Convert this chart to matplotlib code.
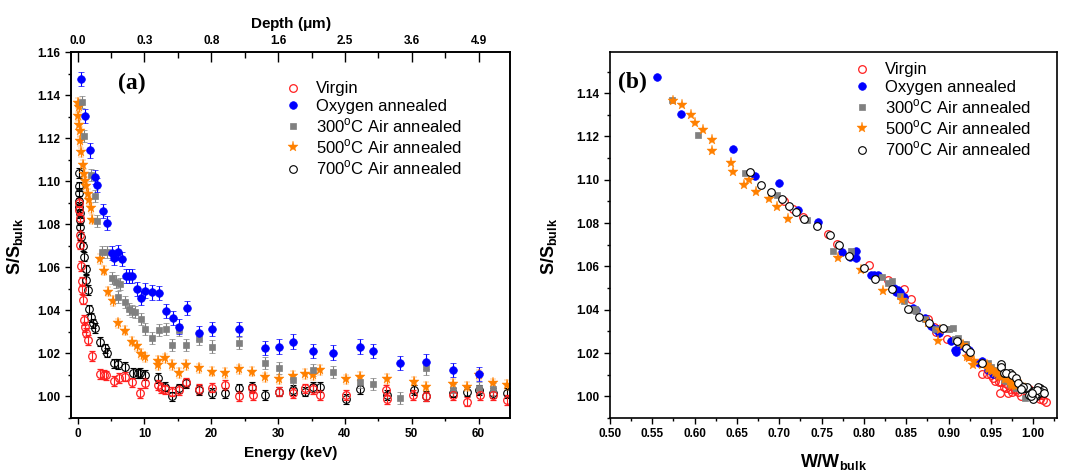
import numpy as np
import matplotlib
matplotlib.use('Agg')
import matplotlib.pyplot as plt
from matplotlib.ticker import MultipleLocator, FormatStrFormatter

plt.rcParams['font.family'] = ['Liberation Sans', 'DejaVu Sans']
plt.rcParams['mathtext.fontset'] = 'custom'
plt.rcParams['mathtext.rm'] = 'Liberation Sans'
plt.rcParams['mathtext.bf'] = 'Liberation Sans:bold'

# ---- data ----
labels = ['Virgin', 'Oxygen annealed', '300$^{\\mathrm{o}}$C Air annealed',
          '500$^{\\mathrm{o}}$C Air annealed', '700$^{\\mathrm{o}}$C Air annealed']

# Virgin
E_v = [0.2, 0.25, 0.3, 0.35, 0.4, 0.5, 0.6, 0.7, 0.85, 0.95, 1.05, 1.2, 1.6, 2.2, 3.3, 3.9, 4.3, 5.4, 6.2, 7.1,
       8.2, 9.4, 10.1, 12.0, 12.4, 13.0, 14.1, 15.1, 16.2, 18.1, 20.1, 22.1, 24.1, 26.1, 26.2, 30.1, 32.2, 34.1, 35.2, 36.2,
       40.2, 46.2, 46.3, 50.2, 52.2, 56.2, 58.2, 60.2, 62.2, 64.2]
S_v = [1.090, 1.0865, 1.083, 1.075, 1.0705, 1.0607, 1.0535, 1.0497, 1.045, 1.0355,
       1.0322, 1.0296, 1.0263, 1.0188, 1.0105, 1.0102, 1.0098, 1.0072, 1.0085, 1.0092,
       1.0065, 1.0015, 1.0062, 1.0053, 1.0040, 1.0033, 1.0022, 1.0030, 1.0065, 1.0035,
       1.0041, 1.0053, 1.0002, 1.0038, 1.0007, 1.0022, 1.0015, 1.0038, 1.0035, 1.0007,
       1.0007, 1.0030, 0.9986, 1.0007, 1.0000, 1.0007, 0.9976, 1.0007, 1.0007, 0.9984]
W_v = [0.705, 0.716, 0.728, 0.757, 0.768, 0.806, 0.828, 0.847, 0.856, 0.876,
       0.883, 0.885, 0.898, 0.923, 0.939, 0.945, 0.950, 0.955, 0.952, 0.958,
       0.962, 0.961, 0.967, 0.970, 0.968, 0.972, 0.975, 0.978, 0.960, 0.980,
       0.965, 0.975, 0.985, 0.990, 0.993, 0.982, 0.970, 0.985, 0.995, 1.000,
       1.005, 0.990, 1.008, 0.998, 1.003, 1.007, 1.015, 1.010, 0.996, 1.012]
err_v = 0.0022

# Oxygen annealed
E_o = [0.5, 1.1, 1.9, 2.6, 2.9, 3.75, 4.35, 5.1, 5.5, 6.1, 6.7, 7.2, 7.7, 8.2, 8.9, 9.45, 10.1, 11.2, 12.2, 13.2,
       14.2, 15.2, 16.3, 18.1, 20.1, 24.1, 28.1, 30.1, 32.2, 35.2, 38.2, 42.2, 44.25, 48.2, 52.2, 56.2, 60.1]
S_o = [1.1475, 1.1304, 1.1143, 1.1019, 1.0983, 1.086, 1.0805, 1.0666, 1.0643, 1.0669,
       1.0638, 1.056, 1.056, 1.056, 1.0498, 1.0457, 1.0492, 1.0483, 1.048, 1.0398,
       1.0364, 1.0325, 1.041, 1.0294, 1.0313, 1.0313, 1.0224, 1.0232, 1.0255, 1.0213,
       1.0204, 1.0232, 1.0213, 1.0154, 1.0162, 1.0123, 1.0103]
W_o = [0.556, 0.584, 0.645, 0.671, 0.700, 0.7225, 0.7455, 0.7736, 0.784, 0.791,
       0.791, 0.808, 0.812, 0.816, 0.835, 0.847, 0.840, 0.843, 0.838, 0.862,
       0.872, 0.879, 0.858, 0.889, 0.884, 0.887, 0.921, 0.912, 0.903, 0.907,
       0.909, 0.917, 0.924, 0.936, 0.940, 0.947, 0.953]
err_o = 0.0033

# 300 C air annealed
E_3 = [0.6, 1.0, 1.95, 2.6, 2.9, 3.65, 4.4, 5.1, 5.7, 6.0, 6.4, 7.1, 7.65, 8.15, 8.6, 9.45, 10.1, 11.1, 12.2, 13.2,
       14.1, 15.2, 16.2, 18.1, 20.1, 24.1, 28.1, 30.1, 32.2, 35.2, 38.2, 42.2, 44.25, 48.2, 52.2, 56.2, 60.1, 62.2]
S_3 = [1.137, 1.1208, 1.103, 1.0932, 1.0813, 1.0673, 1.0669, 1.055, 1.0534, 1.0464,
       1.0523, 1.0441, 1.0405, 1.0399, 1.0394, 1.0359, 1.0313, 1.027, 1.031, 1.0314,
       1.024, 1.031, 1.024, 1.0266, 1.0232, 1.0247, 1.0154, 1.0134, 1.0077, 1.0123,
       1.0113, 1.0069, 1.0058, 0.9992, 1.013, 1.003, 1.004, 1.0035]
W_3 = [0.573, 0.6045, 0.660, 0.697, 0.733, 0.764, 0.785, 0.821, 0.833, 0.8425,
       0.828, 0.847, 0.860, 0.857, 0.862, 0.872, 0.884, 0.911, 0.900, 0.905,
       0.921, 0.898, 0.918, 0.908, 0.920, 0.914, 0.947, 0.950, 0.965, 0.955,
       0.957, 0.968, 0.973, 0.990, 0.948, 0.985, 0.980, 0.988]
err_3 = 0.0028

# 500 C air annealed
E_5 = [0.0, 0.1, 0.2, 0.2, 0.35, 0.35, 0.5, 0.83, 1.0, 1.17, 1.3, 1.55, 1.65, 1.95, 2.15, 3.4, 4.0, 4.5, 5.3, 6.05,
       7.1, 8.15, 8.9, 9.45, 10.1, 12.05, 12.1, 13.0, 14.1, 15.2, 16.2, 18.1, 20.1, 22.05, 24.1, 26.1, 28.1, 30.1, 32.2, 34.1,
       35.2, 36.2, 40.2, 42.2, 46.3, 50.3, 52.2, 56.2, 58.2, 60.1, 62.2, 64.3]
S_5 = [1.1301, 1.1364, 1.1345, 1.1262, 1.1231, 1.1185, 1.1134, 1.1076, 1.1035, 1.0999,
       1.0976, 1.0942, 1.0911, 1.0875, 1.0821, 1.0638, 1.0584, 1.0487, 1.0444, 1.034,
       1.0306, 1.0255, 1.0235, 1.0198, 1.0182, 1.0146, 1.0165, 1.0177, 1.0146, 1.0108,
       1.0146, 1.0131, 1.0115, 1.0108, 1.0126, 1.0115, 1.0089, 1.008, 1.0095, 1.0105,
       1.010, 1.0123, 1.008, 1.0092, 1.0081, 1.0069, 1.0046, 1.0058, 1.0046, 1.010,
       1.0061, 1.0053]
W_5 = [0.596, 0.575, 0.585, 0.601, 0.610, 0.621, 0.6205, 0.6425, 0.645, 0.664,
       0.658, 0.673, 0.688, 0.697, 0.710, 0.769, 0.7965, 0.823, 0.8445, 0.876,
       0.890, 0.888, 0.917, 0.925, 0.922, 0.929, 0.930, 0.924, 0.940, 0.955,
       0.945, 0.947, 0.950, 0.958, 0.948, 0.952, 0.962, 0.966, 0.960, 0.957,
       0.960, 0.950, 0.968, 0.963, 0.970, 0.972, 0.975, 0.974, 0.978, 0.962,
       0.976, 0.985]
err_5 = 0.0022

# 700 C air annealed
E_7 = [0.15, 0.15, 0.2, 0.2, 0.25, 0.3, 0.35, 0.4, 0.5, 0.85, 1.0, 1.2, 1.3, 1.5, 1.7, 2.05, 2.3, 2.55, 3.4, 4.1,
       4.4, 5.4, 6.05, 7.1, 8.3, 9.0, 9.4, 10.1, 12.05, 13.0, 14.1, 15.2, 16.2, 18.1, 20.1, 22.1, 24.1, 26.1, 28.1, 30.1,
       32.2, 34.1, 35.2, 36.2, 40.2, 42.2, 46.3, 50.3, 52.2, 56.2, 58.2, 60.1, 62.2, 64.2]
S_7 = [1.1038, 1.0976, 1.0945, 1.091, 1.088, 1.085, 1.082, 1.0785, 1.0743, 1.0697,
       1.065, 1.0591, 1.0542, 1.0495, 1.0405, 1.0368, 1.034, 1.0317, 1.0255, 1.0224,
       1.0204, 1.0154, 1.0151, 1.0136, 1.0108, 1.0107, 1.011, 1.010, 1.0085, 1.0046,
       1.000, 1.0038, 1.0061, 1.003, 1.0015, 1.0015, 1.0038, 1.0043, 1.0007, 1.0022,
       1.003, 1.0023, 1.0043, 1.0045, 0.9988, 1.0033, 1.0007, 1.003, 1.0002, 1.0018,
       1.0023, 1.003, 1.0016, 1.0015]
W_7 = [0.665, 0.678, 0.690, 0.703, 0.711, 0.720, 0.729, 0.745, 0.760, 0.771,
       0.782, 0.800, 0.813, 0.833, 0.852, 0.865, 0.877, 0.893, 0.910, 0.920,
       0.925, 0.940, 0.962, 0.962, 0.965, 0.972, 0.968, 0.975, 0.980, 0.985,
       1.003, 0.990, 0.982, 0.995, 1.000, 1.007, 1.008, 0.992, 1.002, 0.998,
       1.005, 1.010, 1.006, 0.988, 1.000, 0.985, 0.995, 1.012, 0.997, 1.009,
       1.001, 1.004, 1.013, 0.999]
err_7 = 0.0022

depth_labels = ['0.0', '0.3', '0.8', '1.6', '2.5', '3.6', '4.9']

# ---- figure ----
fig = plt.figure(figsize=(10.72, 4.73), dpi=100)
axA = fig.add_axes([0.0662, 0.1163, 0.4095, 0.7737])
axB = fig.add_axes([0.569, 0.1163, 0.417, 0.7737])

styles = [
    dict(marker='o', mfc='none', mec='#ff2020', color='#ff2020', ms=5.5, mew=0.9),
    dict(marker='o', mfc='#0000ff', mec='#0000ff', color='#0000ff', ms=5.5, mew=0.5),
    dict(marker='s', mfc='#808080', mec='#808080', color='#808080', ms=5, mew=0.5),
    dict(marker='*', mfc='#ff8000', mec='#ff8000', color='#ff8000', ms=8, mew=0.3),
    dict(marker='o', mfc='none', mec='black', color='black', ms=5.5, mew=0.8),
]
series_E = [E_v, E_o, E_3, E_5, E_7]
series_S = [S_v, S_o, S_3, S_5, S_7]
series_W = [W_v, W_o, W_3, W_5, W_7]
errs = [err_v, err_o, err_3, err_5, err_7]

# panel (a)
handles = []
for k in [4, 3, 2, 1, 0]:
    st = styles[k]
    c = axA.errorbar(series_E[k], series_S[k], yerr=errs[k], linestyle='none',
                     marker=st['marker'], mfc=st['mfc'], mec=st['mec'], ms=st['ms'], mew=st['mew'],
                     ecolor=st['color'], elinewidth=0.8, capsize=2.5, capthick=0.8,
                     label=labels[k])
    handles.append(c[0])
handles = handles[::-1]

axA.set_xlim(-1, 64.7)
axA.set_ylim(0.99, 1.16)
axA.xaxis.set_major_locator(MultipleLocator(10))
axA.xaxis.set_minor_locator(MultipleLocator(5))
axA.yaxis.set_major_locator(MultipleLocator(0.02))
axA.yaxis.set_minor_locator(MultipleLocator(0.01))
axA.yaxis.set_major_formatter(FormatStrFormatter('%.2f'))
axA.tick_params(which='both', direction='out', top=False, right=False, labelsize=8.5, width=1)
axA.tick_params(which='major', length=4)
axA.tick_params(which='minor', length=2.5)
axA.set_xlabel('Energy (keV)', fontsize=11, fontweight='bold', labelpad=4)
axA.set_ylabel('$\\mathbf{S/S_{bulk}}$', fontsize=13, labelpad=6)
axA.yaxis.set_label_coords(-0.105, 0.47)
axA.legend(handles=handles, labels=labels, loc='upper left', bbox_to_anchor=(0.4715, 0.938),
           frameon=False, fontsize=12, handlelength=1.0, handletextpad=0.9,
           labelspacing=0.15, borderaxespad=0, numpoints=1)
axA.text(0.107, 0.915, '(a)', transform=axA.transAxes, fontsize=17, fontweight='bold',
         family='Liberation Serif', va='center', ha='left')

top = axA.twiny()
top.set_xlim(axA.get_xlim())
top.set_xticks(np.arange(0, 61, 10))
top.set_xticklabels(depth_labels)
top.xaxis.set_minor_locator(MultipleLocator(5))
top.tick_params(which='both', direction='in', labelsize=8.5, width=1)
top.tick_params(which='major', length=7)
top.tick_params(which='minor', length=4)
top.set_xlabel('Depth ($\\mathbf{\\mu}$m)', fontsize=11, fontweight='bold', labelpad=5)

# panel (b)
for k in range(5):
    st = styles[k]
    mfc = 'white' if k == 4 else st['mfc']
    axB.plot(series_W[k], series_S[k], linestyle='none', marker=st['marker'], mfc=mfc,
             mec=st['mec'], ms=st['ms'], mew=st['mew'], label=labels[k])
axB.set_xlim(0.5, 1.028)
axB.set_ylim(0.99, 1.159)
axB.xaxis.set_major_locator(MultipleLocator(0.05))
axB.xaxis.set_minor_locator(MultipleLocator(0.025))
axB.yaxis.set_major_locator(MultipleLocator(0.02))
axB.yaxis.set_minor_locator(MultipleLocator(0.01))
axB.xaxis.set_major_formatter(FormatStrFormatter('%.2f'))
axB.yaxis.set_major_formatter(FormatStrFormatter('%.2f'))
axB.tick_params(which='both', direction='out', top=False, right=False, labelsize=8.5, width=1)
axB.tick_params(which='major', length=4)
axB.tick_params(which='minor', length=2.5)
axB.set_xlabel('$\\mathbf{W/W_{bulk}}$', fontsize=13, labelpad=8)
axB.set_ylabel('$\\mathbf{S/S_{bulk}}$', fontsize=13, labelpad=14)
axB.yaxis.set_label_coords(-0.115, 0.47)
axB.legend(loc='upper left', bbox_to_anchor=(0.53, 0.99), frameon=False, fontsize=12,
           handlelength=1.0, handletextpad=0.9, labelspacing=0.15, borderaxespad=0, numpoints=1)
axB.text(0.018, 0.918, '(b)', transform=axB.transAxes, fontsize=17, fontweight='bold',
         family='Liberation Serif', va='center', ha='left')

for ax in [axA, axB, top]:
    for sp in ax.spines.values():
        sp.set_linewidth(1.2)
    for lb in ax.get_xticklabels() + ax.get_yticklabels():
        lb.set_fontweight('bold')

fig.savefig('out.png', dpi=100)
